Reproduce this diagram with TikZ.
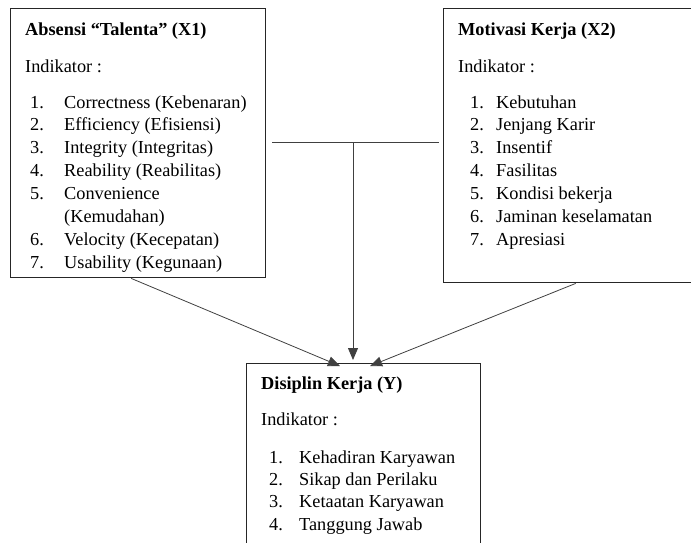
\documentclass[tikz,border=0pt]{standalone}
\usepackage{fontspec}
\setmainfont{Liberation Serif}
\usetikzlibrary{arrows.meta,positioning}

\tikzset{
  varbox/.style={draw=black!85, line width=1.4pt, anchor=north west, inner sep=0pt},
  ttl/.style={anchor=base west, inner sep=0pt, font=\fontsize{18.3}{22}\selectfont\bfseries},
  txt/.style={anchor=base west, inner sep=0pt, font=\fontsize{18.3}{22}\selectfont},
  link/.style={draw=black!75, line width=0.8pt},
  arr/.style={link, -{Triangle[length=12pt,width=10pt]}}
}

\begin{document}
\begin{tikzpicture}[x=1pt,y=-1pt]
\useasboundingbox (0,0) rectangle (691,542);

% boxes
\node[varbox, minimum width=255pt, minimum height=269pt] (x1) at (10,8) {};
\node[varbox, minimum width=250pt, minimum height=274pt] (x2) at (443,8) {};
\node[varbox, minimum width=234pt, minimum height=200pt] (y) at (246,363) {};

% Absensi "Talenta" (X1)
\node[ttl] (x1t) at (25,35) {Absensi “Talenta” (X1)};
\node[txt] (x1i) at (25,72) {Indikator :};
\foreach \n/\t [count=\i] in {1./Correctness (Kebenaran), 2./Efficiency (Efisiensi),
    3./Integrity (Integritas), 4./Reability (Reabilitas), 5./Convenience,
    /(Kemudahan), 6./Velocity (Kecepatan), 7./Usability (Kegunaan)}{
  \node[txt] (x1n\i) at (30,{108+(\i-1)*22.9}) {\n};
  \node[txt] (x1l\i) at (64,{108+(\i-1)*22.9}) {\t};
}

% Motivasi Kerja (X2)
\node[ttl] (x2t) at (458,35) {Motivasi Kerja (X2)};
\node[txt] (x2i) at (458,72) {Indikator :};
\foreach \t [count=\i] in {Kebutuhan, Jenjang Karir, Insentif, Fasilitas,
    Kondisi bekerja, Jaminan keselamatan, Apresiasi}{
  \node[txt] (x2n\i) at (470,{108+(\i-1)*22.9}) {\i.};
  \node[txt] (x2l\i) at (496,{108+(\i-1)*22.9}) {\t};
}

% Disiplin Kerja (Y)
\node[ttl] (yt) at (261,389) {Disiplin Kerja (Y)};
\node[txt] (yi) at (261,425) {Indikator :};
\foreach \t [count=\i] in {Kehadiran Karyawan, Sikap dan Perilaku,
    Ketaatan Karyawan, Tanggung Jawab}{
  \node[txt] (yn\i) at (269,{463+(\i-1)*22.4}) {\i.};
  \node[txt] (yl\i) at (299,{463+(\i-1)*22.4}) {\t};
}

% connectors
\coordinate (jn) at (353,142);
\draw[link, shorten <=6pt, shorten >=4pt] (x1.east |- jn) -- (x2.west |- jn);
\draw[arr, shorten >=3pt] (jn) -- (jn |- y.north);
\draw[arr] ([xshift=-7pt]x1.south) -- ([xshift=94pt,yshift=-3pt]y.north west);
\draw[arr] ([xshift=7pt]x2.south) -- ([xshift=124pt,yshift=-3pt]y.north west);
\end{tikzpicture}
\end{document}
